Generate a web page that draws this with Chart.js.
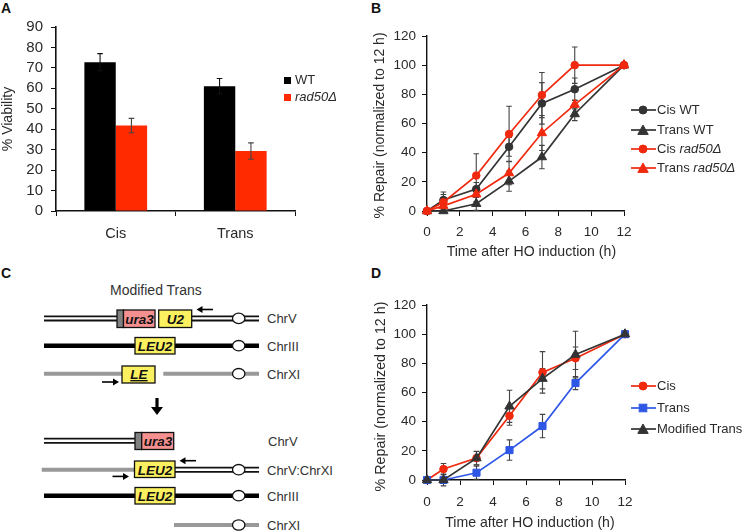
<!DOCTYPE html>
<html>
<head>
<meta charset="utf-8">
<script src="https://cdn.jsdelivr.net/npm/chart.js@4"></script>
<style>
html, body { margin: 0; padding: 0; background: #fff; }
body { width: 742px; height: 531px; position: relative; overflow: hidden; font-family: "Liberation Sans", Arial, sans-serif; color: #2a2a2a; }
canvas, svg.abs { position: absolute; }
.panel { position: absolute; font-weight: bold; font-size: 14px; color: #111; line-height: 14px; }
.leg { position: absolute; white-space: nowrap; line-height: 16px; }
.schem text { font-family: "Liberation Sans", Arial, sans-serif; }
.gene { font-weight: bold; font-style: italic; font-size: 13.5px; fill: #111; text-anchor: middle; }
.chr { font-size: 13px; fill: #333; }
</style>
</head>
<body>
<div class="panel" style="left:1px;top:1px">A</div>
<div class="panel" style="left:371px;top:1px">B</div>
<div class="panel" style="left:1px;top:266px">C</div>
<div class="panel" style="left:371px;top:266px">D</div>

<canvas id="chartA" width="300" height="250" style="left:0;top:0"></canvas>
<canvas id="chartB" width="272" height="261" style="left:372px;top:0"></canvas>
<canvas id="chartD" width="273" height="262" style="left:372px;top:270px"></canvas>

<svg class="abs schem" width="370" height="266" viewBox="0 265 370 266" style="left:0;top:265px">
  <defs>
    <ellipse id="cen" rx="6.2" ry="5.2" fill="#fff" stroke="#111" stroke-width="1.3"/>
  </defs>
  <text x="110" y="295" font-size="14" fill="#333">Modified Trans</text>

  <!-- before -->
  <path d="M44 318.4H117M192 318.4H259" stroke="#111" stroke-width="6" fill="none"/>
  <path d="M44 318.4H117M192 318.4H259" stroke="#fff" stroke-width="2.4" fill="none"/>
  <rect x="117" y="310" width="6.5" height="17.5" fill="#808080" stroke="#111" stroke-width="1.3"/>
  <rect x="123.5" y="310" width="31.5" height="17.5" fill="#f59090" stroke="#111" stroke-width="1.3"/>
  <text class="gene" x="139.5" y="323.5">ura3</text>
  <rect x="158.7" y="310" width="33" height="17.5" fill="#faf060" stroke="#111" stroke-width="1.3"/>
  <text class="gene" x="175.5" y="323.5">U2</text>
  <use href="#cen" x="238.7" y="318.4"/>
  <text class="chr" x="267" y="323">ChrV</text>

  <path d="M44 345.7H259" stroke="#000" stroke-width="4.5"/>
  <rect x="135" y="337.5" width="40" height="16.5" fill="#faf060" stroke="#111" stroke-width="1.3"/>
  <text class="gene" x="155" y="350.5">LEU2</text>
  <use href="#cen" x="238.7" y="345.7"/>
  <text class="chr" x="267" y="350.5">ChrIII</text>

  <path d="M44 373.7H122M163.3 373.7H259" stroke="#999" stroke-width="4"/>
  <rect x="122" y="366" width="33" height="17" fill="#faf060" stroke="#111" stroke-width="1.3"/>
  <text class="gene" x="139" y="379" text-decoration="underline">LE</text>
  <use href="#cen" x="238.7" y="373.7"/>
  <text class="chr" x="267" y="378.5">ChrXI</text>

  <!-- arrow between the two states -->
  <path d="M157 398V409" stroke="#000" stroke-width="3.2"/>
  <path d="M151 407H163L157 415Z" fill="#000"/>

  <!-- after -->
  <path d="M44 440.7H135" stroke="#111" stroke-width="6"/>
  <path d="M44 440.7H135" stroke="#fff" stroke-width="2.4"/>
  <rect x="135" y="432.5" width="6.7" height="17" fill="#808080" stroke="#111" stroke-width="1.3"/>
  <rect x="141.7" y="432.5" width="32" height="17" fill="#f59090" stroke="#111" stroke-width="1.3"/>
  <text class="gene" x="158" y="446">ura3</text>
  <text class="chr" x="268" y="445.5">ChrV</text>

  <path d="M41.7 469.7H134" stroke="#999" stroke-width="4"/>
  <path d="M175 469.7H259" stroke="#111" stroke-width="6"/>
  <path d="M175 469.7H259" stroke="#fff" stroke-width="2.4"/>
  <rect x="134.5" y="461" width="40.5" height="16.5" fill="#faf060" stroke="#111" stroke-width="1.3"/>
  <text class="gene" x="155" y="474.5">LEU2</text>
  <use href="#cen" x="238.7" y="469.7"/>
  <text class="chr" x="267" y="474.5">ChrV:ChrXI</text>

  <path d="M44 495.7H259" stroke="#000" stroke-width="4.5"/>
  <rect x="135" y="487.5" width="40" height="16.5" fill="#faf060" stroke="#111" stroke-width="1.3"/>
  <text class="gene" x="155" y="500.5">LEU2</text>
  <use href="#cen" x="238.7" y="495.7"/>
  <text class="chr" x="267" y="500.5">ChrIII</text>

  <path d="M174 525H259" stroke="#999" stroke-width="4"/>
  <use href="#cen" x="238.7" y="525"/>
  <text class="chr" x="267" y="530">ChrXI</text>

  <!-- primer arrows -->
  <g stroke="#000" stroke-width="1.6" fill="#000">
    <path d="M213 309.5H200"/><path d="M196.5 309.5L202.5 306V313Z" stroke="none"/>
    <path d="M102 382H115"/><path d="M119 382L113 378.5V385.5Z" stroke="none"/>
    <path d="M196 460.7H183"/><path d="M179.5 460.7L185.5 457.2V464.2Z" stroke="none"/>
    <path d="M112.5 476.4H125.5"/><path d="M129 476.4L123 472.9V479.9Z" stroke="none"/>
  </g>
</svg>

<script>
// panel A
const categories = ["Cis", "Trans"];
const viabilityWT = [72.8, 61];
const viabilityWTErr = [4.2, 3.8];
const viabilityRad50 = [41.8, 29.3];
const viabilityRad50Err = [3.5, 4];

// panels B and D share the same time points
const hours = [0, 1, 3, 5, 7, 9, 12];

const cisWT = [0, 7.5, 15, 44, 73.8, 83.5, 100];
const cisWTErr = [0, 3.8, 4.5, 6.5, 14.2, 7.7, 0];
const transWT = [0, 0, 5, 20.5, 37, 66.5, 100];
const transWTErr = [0, 0, 4.5, 7, 8, 4.5, 0];
const cisRad50 = [0, 6, 24.3, 52.8, 79.5, 100, 100];
const cisRad50Err = [0, 7, 15, 19, 15.5, 12.5, 0];
const transRad50 = [0, 3.5, 11.5, 26, 53.5, 73, 100];
const transRad50Err = [0, 3, 5, 8, 12, 3, 0];

const modifiedTrans = [0, 0, 15, 50.5, 69.5, 86, 100];
const modifiedTransErr = [0, 4, 4.7, 11, 7, 16, 0];

const DARK = "#333333";
const RED = "#f0290f";
const BLUE = "#2f57e6";

// whiskers, drawn under the line markers but over the bars
function drawWhiskers(chart) {
    const ctx = chart.ctx;
    const yScale = chart.scales.y;
    ctx.save();
    chart.data.datasets.forEach(function (ds, i) {
        if (!ds.errors) return;
        ctx.strokeStyle = ds.errorColor || "#444";
        ctx.lineWidth = 1.1;
        chart.getDatasetMeta(i).data.forEach(function (el, j) {
            const err = ds.errors[j];
            if (!err) return;
            const v = typeof ds.data[j] === "object" ? ds.data[j].y : ds.data[j];
            const hi = yScale.getPixelForValue(v + err);
            const lo = yScale.getPixelForValue(v - err);
            ctx.beginPath();
            ctx.moveTo(el.x, hi);
            ctx.lineTo(el.x, lo);
            ctx.moveTo(el.x - 2.8, hi);
            ctx.lineTo(el.x + 2.8, hi);
            ctx.moveTo(el.x - 2.8, lo);
            ctx.lineTo(el.x + 2.8, lo);
            ctx.stroke();
        });
    });
    ctx.restore();
}

const whiskers = {
    id: "whiskers",
    beforeDatasetsDraw(chart) { if (chart.config.type === "line") drawWhiskers(chart); },
    afterDatasetsDraw(chart) { if (chart.config.type === "bar") drawWhiskers(chart); }
};

function axisFont(size) {
    return { family: "'Liberation Sans', Arial, sans-serif", size: size };
}

new Chart("chartA", {
    type: "bar",
    data: {
        labels: categories,
        datasets: [
            { label: "WT", data: viabilityWT, errors: viabilityWTErr, errorColor: "#111", backgroundColor: "#000" },
            { label: "rad50Δ", data: viabilityRad50, errors: viabilityRad50Err, errorColor: "#444", backgroundColor: "#ff2a00" }
        ]
    },
    options: {
        responsive: false,
        animation: false,
        layout: { padding: { top: 27, right: 5, left: 0, bottom: 0 } },
        datasets: { bar: { categoryPercentage: 0.525, barPercentage: 1 } },
        plugins: { legend: { display: false }, tooltip: { enabled: false } },
        scales: {
            x: {
                afterFit(s) { s.height = 39; },
                grid: { offset: true, drawOnChartArea: false, color: "#111", tickLength: 5 },
                border: { color: "#111", width: 1.6 },
                ticks: { color: "#2a2a2a", font: axisFont(14.5), padding: 9 }
            },
            y: {
                min: 0, max: 90,
                afterFit(s) { s.width = 56; },
                grid: { drawOnChartArea: false, color: "#111", tickLength: 5 },
                border: { color: "#111", width: 1.6 },
                ticks: { stepSize: 10, autoSkip: false, color: "#2a2a2a", font: axisFont(15), padding: 8 },
                title: { display: true, text: "% Viability", color: "#2a2a2a", font: axisFont(14), padding: 0 }
            }
        }
    },
    plugins: [whiskers]
});

function points(values) {
    return values.map(function (v, i) { return { x: hours[i], y: v }; });
}

function markerRadius(shape) {
    if (shape === "triangle") return 5.4;
    if (shape === "rect") return 5;
    return 3.8;
}

function series(label, values, errors, color, shape, order) {
    return {
        label: label,
        data: points(values),
        errors: errors,
        borderColor: color,
        backgroundColor: color,
        pointBackgroundColor: color,
        pointBorderColor: color,
        pointBorderWidth: 1,
        pointStyle: shape,
        pointRadius: markerRadius(shape),
        borderWidth: 1.7,
        clip: false,
        tension: 0,
        order: order
    };
}

function repairOptions(topPad, xHeight, xTitle, yTitle, yTitleSize, xPad) {
    return {
        responsive: false,
        animation: false,
        // right padding has to stay above what the last x label asks for
        layout: { padding: { top: topPad, right: 20, left: 0, bottom: 0 } },
        plugins: { legend: { display: false }, tooltip: { enabled: false } },
        scales: {
            x: {
                type: "linear", min: 0, max: 12,
                afterFit(s) { s.height = xHeight; },
                grid: { drawOnChartArea: false, color: "#111", tickLength: 5 },
                border: { color: "#111", width: 1.4 },
                ticks: { stepSize: 2, color: "#2a2a2a", font: axisFont(13.5), padding: xPad, maxRotation: 0 },
                title: { display: true, text: xTitle, color: "#2a2a2a", font: axisFont(14.1), padding: 0 }
            },
            y: {
                min: 0, max: 120,
                afterFit(s) { s.width = 55; },
                grid: { drawOnChartArea: false, color: "#111", tickLength: 5 },
                border: { color: "#111", width: 1.4 },
                ticks: { stepSize: 20, color: "#2a2a2a", font: axisFont(13.5), padding: 6 },
                title: { display: true, text: yTitle, color: "#2a2a2a", font: axisFont(yTitleSize), padding: 0 }
            }
        }
    };
}

// the spaces nudge the centred titles off the plot centre, as in the figure
new Chart("chartB", {
    type: "line",
    data: {
        datasets: [
            series("Cis WT", cisWT, cisWTErr, DARK, "circle", 4),
            series("Trans WT", transWT, transWTErr, DARK, "triangle", 3),
            series("Cis rad50Δ", cisRad50, cisRad50Err, RED, "circle", 2),
            series("Trans rad50Δ", transRad50, transRad50Err, RED, "triangle", 1)
        ]
    },
    options: repairOptions(36, 50, "   Time after HO induction (h)", "% Repair (normalized to 12 h) ", 14, 8),
    plugins: [whiskers]
});

new Chart("chartD", {
    type: "line",
    data: {
        datasets: [
            series("Cis", cisWT, cisWTErr, RED, "circle", 3),
            series("Trans", transWT, transWTErr, BLUE, "rect", 2),
            series("Modified Trans", modifiedTrans, modifiedTransErr, DARK, "triangle", 1)
        ]
    },
    options: repairOptions(35, 52, "  Time after HO induction (h)", "% Repair (normalized to 12 h)  ", 14.3, 9),
    plugins: [whiskers]
});

// legends are plain markup, the italic gene name cannot be mixed in the canvas legend
function legendRow(x, y, color, shape, name, italicPart, size) {
    const glyph = document.createElementNS("http://www.w3.org/2000/svg", "svg");
    glyph.setAttribute("class", "abs");
    glyph.setAttribute("width", 28);
    glyph.setAttribute("height", 14);
    glyph.style.left = x + "px";
    glyph.style.top = (y - 7) + "px";
    let marker = "";
    if (shape === "circle") marker = '<circle cx="13" cy="7" r="4"/>';
    if (shape === "triangle") marker = '<path d="M13 2L18.2 11.4H7.8Z"/>';
    if (shape === "rect") marker = '<rect x="9.2" y="3.2" width="7.6" height="7.6"/>';
    glyph.innerHTML = '<g fill="' + color + '" stroke="' + color + '"><path d="M1 7H26" stroke-width="1.7"/>' + marker + "</g>";
    document.body.appendChild(glyph);

    const row = document.createElement("div");
    row.className = "leg";
    row.style.left = (x + 27) + "px";
    row.style.top = (y - 8) + "px";
    row.style.fontSize = size + "px";
    row.textContent = name;
    if (italicPart) {
        const em = document.createElement("i");
        em.textContent = italicPart;
        row.appendChild(em);
    }
    document.body.appendChild(row);
}

function legendSquare(x, y, color, name, italic) {
    const box = document.createElement("div");
    box.style.cssText = "position:absolute;left:" + x + "px;top:" + (y - 3.5) + "px;width:7px;height:7px;background:" + color;
    document.body.appendChild(box);
    const row = document.createElement("div");
    row.className = "leg";
    row.style.cssText = "left:" + (x + 11) + "px;top:" + (y - 8) + "px;font-size:13px;" + (italic ? "font-style:italic;" : "");
    row.textContent = name;
    document.body.appendChild(row);
}

legendSquare(284, 80, "#000", "WT", false);
legendSquare(284, 97, "#ff2a00", "rad50Δ", true);

legendRow(630, 110, DARK, "circle", "Cis WT", "", 13);
legendRow(630, 129.5, DARK, "triangle", "Trans WT", "", 13);
legendRow(630, 149, RED, "circle", "Cis ", "rad50Δ", 13);
legendRow(630, 168, RED, "triangle", "Trans ", "rad50Δ", 13);

legendRow(630, 386, RED, "circle", "Cis", "", 13);
legendRow(630, 407.5, BLUE, "rect", "Trans", "", 13);
legendRow(630, 428.5, DARK, "triangle", "Modified Trans", "", 13);
</script>
</body>
</html>
